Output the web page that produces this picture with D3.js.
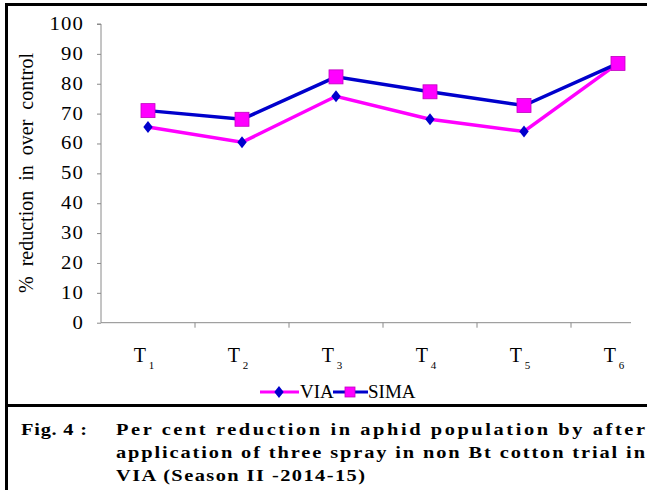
<!DOCTYPE html>
<html>
<head>
<meta charset="utf-8">
<script src="https://cdn.jsdelivr.net/npm/d3@7"></script>
<style>
  body { margin: 0; background: #fff; }
  svg { display: block; }
</style>
</head>
<body>
<svg id="chart" width="647" height="490" font-family="'Liberation Serif', 'Times New Roman', 'DejaVu Serif', serif"></svg>
<script>
// data
var treatments = ["1", "2", "3", "4", "5", "6"];   // T subscripts
var viaValues  = [65.5, 60.4, 75.8, 68.1, 64.0, 86.8];
var simaValues = [71.0, 68.1, 82.3, 77.3, 72.7, 86.8];
var yTicks = [0, 10, 20, 30, 40, 50, 60, 70, 80, 90, 100];
var captionLines = [
    "Per cent reduction in aphid population by after",
    "application of three spray in non Bt cotton trial in",
    "VIA (Season II -2014-15)"
];

var svg = d3.select("#chart");
var magenta = "#ff00ff", blue = "#0000cc";

// frame lines
svg.append("rect").attr("x", 5).attr("y", 3).attr("width", 642).attr("height", 3).attr("fill", "#000");
svg.append("rect").attr("x", 5).attr("y", 3).attr("width", 3).attr("height", 487).attr("fill", "#000");
svg.append("rect").attr("x", 5).attr("y", 404).attr("width", 642).attr("height", 3).attr("fill", "#000");

var x = d3.scaleBand().domain(treatments).range([101, 665]);
var y = d3.scaleLinear().domain([0, 100]).range([322.7, 24]);

// clip: the plot runs off the right side of the figure
svg.append("clipPath").attr("id", "plotclip")
    .append("rect").attr("x", 0).attr("y", 0).attr("width", 631).attr("height", 400);

var g = svg.append("g");

// y axis
var yAxis = d3.axisLeft(y).tickValues(yTicks).tickSize(4).tickFormat("");
g.append("g").attr("transform", "translate(101,0)").call(yAxis)
    .call(function(s) {
        s.select(".domain").attr("stroke", "#8a8a8a").attr("d", "M-4,24H0V322.7");
        s.selectAll(".tick line").attr("stroke", "#8a8a8a");
    });

// tick labels are drawn a little wide, like the original
g.selectAll(".ylab").data(yTicks).enter().append("text")
    .attr("class", "ylab")
    .attr("transform", function(d) { return "translate(84," + (y(d) + 6) + ") scale(1.15,1)"; })
    .attr("text-anchor", "end")
    .attr("font-size", 18)
    .attr("letter-spacing", 1)
    .text(function(d) { return d; });

// x axis, ticks between the categories
var xAxisG = g.append("g").attr("clip-path", "url(#plotclip)");
xAxisG.append("line")
    .attr("x1", 101).attr("x2", 665)
    .attr("y1", y(0)).attr("y2", y(0))
    .attr("stroke", "#8a8a8a");
xAxisG.selectAll(".xtick").data(treatments.slice(1)).enter().append("line")
    .attr("x1", function(d) { return x(d); })
    .attr("x2", function(d) { return x(d); })
    .attr("y1", y(0)).attr("y2", y(0) + 5)
    .attr("stroke", "#8a8a8a");

var xl = g.selectAll(".xlab").data(treatments).enter().append("text")
    .attr("class", "xlab")
    .attr("x", function(d) { return x(d) + x.bandwidth() / 2 - 4; })
    .attr("y", 362)
    .attr("text-anchor", "middle")
    .attr("font-size", 20);
xl.append("tspan").text("T");
xl.append("tspan").attr("dx", 3).attr("dy", 7).attr("font-size", 11).text(function(d) { return d; });

// y title
svg.append("text")
    .attr("transform", "translate(33,173) rotate(-90)")
    .attr("text-anchor", "middle")
    .attr("font-size", 20)
    .attr("word-spacing", 5)
    .text("% reduction in over control");

// lines
var line = d3.line()
    .x(function(d, i) { return x(treatments[i]) + x.bandwidth() / 2; })
    .y(function(d) { return y(d); });

var plot = g.append("g").attr("clip-path", "url(#plotclip)");

plot.append("path").datum(viaValues)
    .attr("d", line).attr("fill", "none")
    .attr("stroke", magenta).attr("stroke-width", 3.5);
plot.append("path").datum(simaValues)
    .attr("d", line).attr("fill", "none")
    .attr("stroke", blue).attr("stroke-width", 3.5);

var diamond = "M0,-6L4.7,0L0,6L-4.7,0Z";

plot.selectAll(".via").data(viaValues).enter().append("path")
    .attr("class", "via")
    .attr("transform", function(d, i) { return "translate(" + (x(treatments[i]) + x.bandwidth() / 2) + "," + y(d) + ")"; })
    .attr("d", diamond)
    .attr("fill", blue);

plot.selectAll(".sima").data(simaValues).enter().append("rect")
    .attr("class", "sima")
    .attr("x", function(d, i) { return x(treatments[i]) + x.bandwidth() / 2 - 7; })
    .attr("y", function(d) { return y(d) - 7; })
    .attr("width", 14).attr("height", 14)
    .attr("fill", magenta)
    .attr("stroke", "#c000c0").attr("stroke-width", 0.8);

// legend
var leg = svg.append("g");
leg.append("line").attr("x1", 260).attr("x2", 299).attr("y1", 392).attr("y2", 392)
    .attr("stroke", magenta).attr("stroke-width", 3);
leg.append("path").attr("transform", "translate(279,392)").attr("d", diamond).attr("fill", blue);
leg.append("text").attr("x", 300).attr("y", 398).attr("font-size", 19).text("VIA");
leg.append("line").attr("x1", 333).attr("x2", 368).attr("y1", 392).attr("y2", 392)
    .attr("stroke", blue).attr("stroke-width", 3);
leg.append("rect").attr("x", 345).attr("y", 387).attr("width", 10).attr("height", 10)
    .attr("fill", magenta).attr("stroke", "#c000c0").attr("stroke-width", 0.8);
leg.append("text").attr("x", 368).attr("y", 398).attr("font-size", 19).text("SIMA");

// caption, set bold and slightly wide
var sx = 1.2;
var cap = svg.append("g").attr("font-weight", "bold").attr("font-size", 17)
    .attr("transform", "scale(" + sx + ",1)");
cap.append("text").attr("x", 21 / sx).attr("y", 435)
    .attr("textLength", 66 / sx).attr("lengthAdjust", "spacing").text("Fig. 4 :");
var capLen = [529, 529, 249];
cap.selectAll(".capline").data(captionLines).enter().append("text")
    .attr("class", "capline")
    .attr("x", 116 / sx)
    .attr("y", function(d, i) { return 435 + i * 23; })
    .attr("textLength", function(d, i) { return capLen[i] / sx; })
    .attr("lengthAdjust", "spacing")
    .text(function(d) { return d; });
</script>
</body>
</html>
